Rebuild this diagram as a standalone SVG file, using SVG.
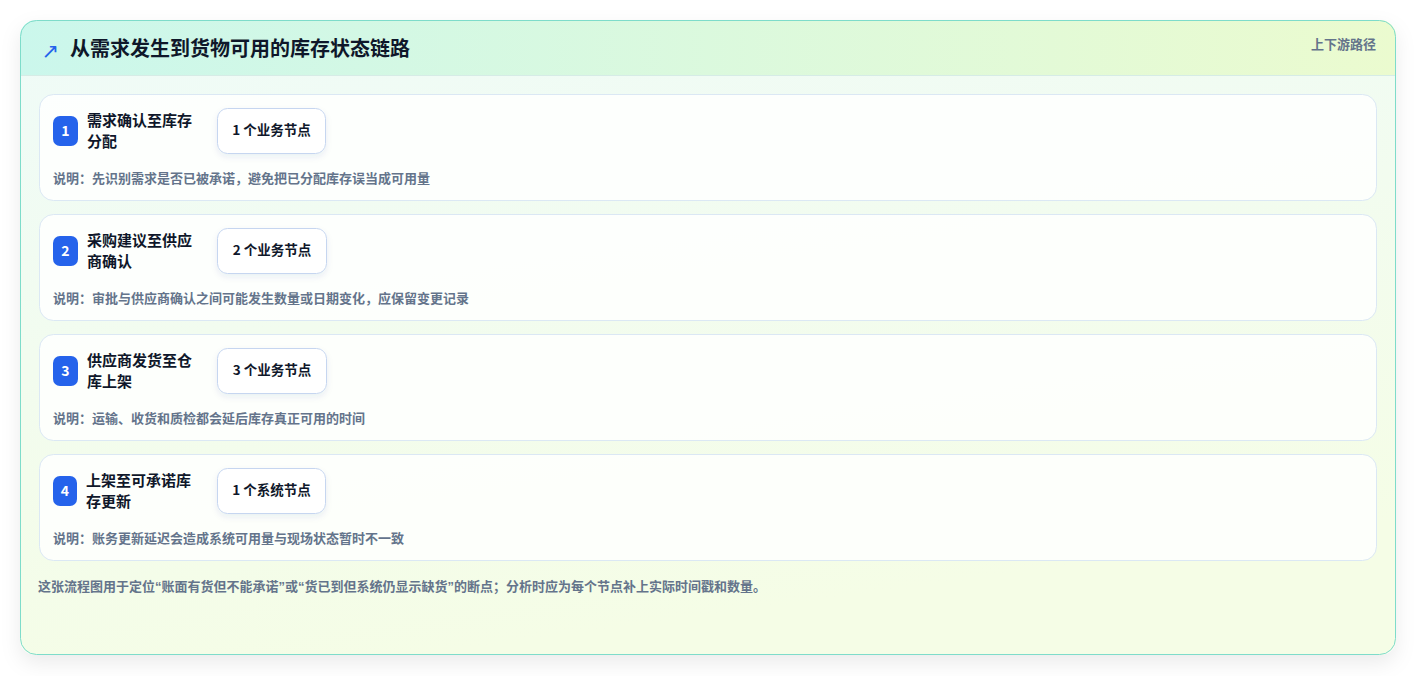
<svg xmlns="http://www.w3.org/2000/svg" width="1417" height="676" viewBox="0 0 1417 676">
<defs>
  <linearGradient id="hdr" x1="0" y1="0" x2="1" y2="0">
    <stop offset="0" stop-color="#cbf7ec"/>
    <stop offset="1" stop-color="#ebfbcf"/>
  </linearGradient>
  <linearGradient id="body" x1="0" y1="0" x2="0.3" y2="1">
    <stop offset="0" stop-color="#effbf8"/>
    <stop offset="1" stop-color="#f5fde6"/>
  </linearGradient>
  <filter id="shadow" x="-5%" y="-10%" width="110%" height="125%">
    <feDropShadow dx="0" dy="8" stdDeviation="10" flood-color="#0f172a" flood-opacity="0.08"/>
  </filter>
  <filter id="pshadow" x="-20%" y="-20%" width="140%" height="160%">
    <feDropShadow dx="0" dy="3" stdDeviation="3" flood-color="#1e3a8a" flood-opacity="0.08"/>
  </filter>
  <clipPath id="cardclip"><rect x="20" y="20" width="1376" height="635" rx="16"/></clipPath>
</defs>
<style>
  .cjk { font-family: "Noto Sans CJK SC", "Noto Sans", "Liberation Sans", sans-serif; }
  .q { font-family: "Liberation Sans", sans-serif; }
  .row { fill: #ffffff; fill-opacity: 0.82; stroke: #dbe8f4; stroke-width: 1; }
  .badge { fill: #2563eb; }
  .bnum { fill: #ffffff; font-size: 14px; font-weight: 700; text-anchor: middle; }
  .rtitle { fill: #0f172a; font-size: 15px; font-weight: 700; }
  .pill { fill: #ffffff; stroke: #c6d6f0; stroke-width: 1; }
  .ptext { fill: #0f172a; font-size: 13.5px; font-weight: 700; text-anchor: middle; }
  .desc { fill: #64748b; font-size: 13px; font-weight: 600; }
</style>
<rect width="1417" height="676" fill="#ffffff"/>
<g id="card">
  <rect x="20" y="20" width="1376" height="635" rx="16" fill="url(#body)" filter="url(#shadow)"/>
  <g clip-path="url(#cardclip)">
    <rect x="20" y="20" width="1376" height="55" fill="url(#hdr)"/>
    <line x1="20" y1="75.5" x2="1396" y2="75.5" stroke="#d6ece6" stroke-width="1"/>
  </g>
  <rect x="20.5" y="20.5" width="1375" height="634" rx="16" fill="none" stroke="#7edcca" stroke-width="1"/>
  <text x="41.5" y="58" font-family="DejaVu Sans, sans-serif" font-size="21" fill="#2563eb">↗</text>
  <text x="70" y="56" class="cjk" font-size="20" font-weight="700" fill="#0f172a">从需求发生到货物可用的库存状态链路</text>
  <text x="1376" y="49" class="cjk" font-size="13" font-weight="600" fill="#64748b" text-anchor="end">上下游路径</text>
</g>
<g id="step1">
  <rect class="row" x="39.5" y="94.5" width="1337" height="106" rx="14"/>
  <rect class="badge" x="53" y="116" width="25" height="30" rx="7"/>
  <text class="cjk bnum" x="65.5" y="136">1</text>
  <text class="cjk rtitle" x="87" y="126">需求确认至库存</text>
  <text class="cjk rtitle" x="87" y="147">分配</text>
  <rect class="pill" x="217.5" y="108.5" width="108" height="45" rx="10" filter="url(#pshadow)"/>
  <text class="cjk ptext" x="271.5" y="135">1 个业务节点</text>
  <text class="cjk desc" x="53" y="183">说明：先识别需求是否已被承诺，避免把已分配库存误当成可用量</text>
</g>
<g id="step2">
  <rect class="row" x="39.5" y="214.5" width="1337" height="106" rx="14"/>
  <rect class="badge" x="53" y="236" width="25" height="30" rx="7"/>
  <text class="cjk bnum" x="65.5" y="256">2</text>
  <text class="cjk rtitle" x="87" y="246">采购建议至供应</text>
  <text class="cjk rtitle" x="87" y="267">商确认</text>
  <rect class="pill" x="217.5" y="228.5" width="109" height="45" rx="10" filter="url(#pshadow)"/>
  <text class="cjk ptext" x="272" y="255">2 个业务节点</text>
  <text class="cjk desc" x="53" y="303">说明：审批与供应商确认之间可能发生数量或日期变化，应保留变更记录</text>
</g>
<g id="step3">
  <rect class="row" x="39.5" y="334.5" width="1337" height="106" rx="14"/>
  <rect class="badge" x="53" y="356" width="25" height="30" rx="7"/>
  <text class="cjk bnum" x="65.5" y="376">3</text>
  <text class="cjk rtitle" x="87" y="366">供应商发货至仓</text>
  <text class="cjk rtitle" x="87" y="387">库上架</text>
  <rect class="pill" x="217.5" y="348.5" width="109" height="45" rx="10" filter="url(#pshadow)"/>
  <text class="cjk ptext" x="272" y="375">3 个业务节点</text>
  <text class="cjk desc" x="53" y="423">说明：运输、收货和质检都会延后库存真正可用的时间</text>
</g>
<g id="step4">
  <rect class="row" x="39.5" y="454.5" width="1337" height="106" rx="14"/>
  <rect class="badge" x="53" y="476" width="24" height="30" rx="7"/>
  <text class="cjk bnum" x="65" y="496">4</text>
  <text class="cjk rtitle" x="86" y="486">上架至可承诺库</text>
  <text class="cjk rtitle" x="86" y="507">存更新</text>
  <rect class="pill" x="217.5" y="468.5" width="108" height="45" rx="10" filter="url(#pshadow)"/>
  <text class="cjk ptext" x="271.5" y="495">1 个系统节点</text>
  <text class="cjk desc" x="53" y="543">说明：账务更新延迟会造成系统可用量与现场状态暂时不一致</text>
</g>
<g id="connectors"></g>
<g id="footer">
  <text class="cjk desc" x="38" y="591">这张流程图用于定位<tspan class="q">“</tspan>账面有货但不能承诺<tspan class="q">”</tspan>或<tspan class="q">“</tspan>货已到但系统仍显示缺货<tspan class="q">”</tspan>的断点；分析时应为每个节点补上实际时间戳和数量。</text>
</g>
</svg>
